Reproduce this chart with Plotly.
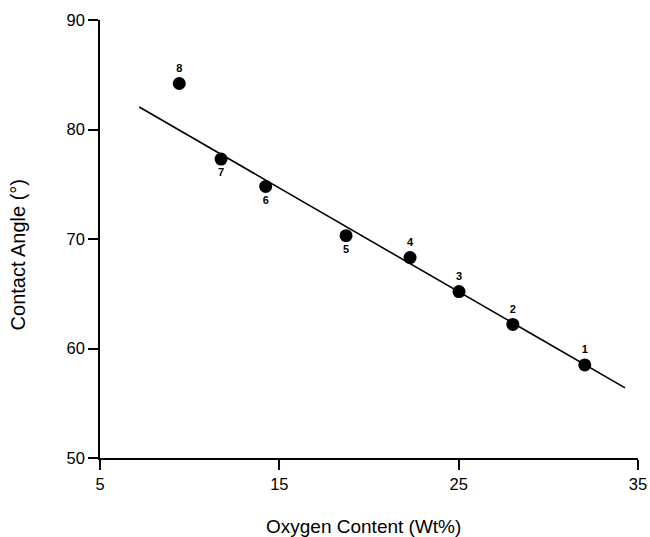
import plotly.graph_objects as go

# Data
oxygen = [32.03, 28.02, 25.02, 22.29, 18.72, 14.24, 11.75, 9.42]
angle = [58.5, 62.2, 65.2, 68.3, 70.3, 74.8, 77.3, 84.2]
labels = ["1", "2", "3", "4", "5", "6", "7", "8"]
label_pos = ["top center", "top center", "top center", "top center",
             "bottom center", "bottom center", "bottom center", "top center"]

fit_x = [7.19, 34.28]
fit_y = [82.05, 56.4]

x_ticks = [5, 15, 25, 35]
y_ticks = [50, 60, 70, 80, 90]

FONT = "Liberation Sans"

fig = go.Figure()
fig.add_trace(go.Scatter(x=fit_x, y=fit_y, mode="lines",
                         line=dict(color="black", width=1.6),
                         showlegend=False, hoverinfo="skip"))
fig.add_trace(go.Scatter(x=oxygen, y=angle, mode="markers+text",
                         marker=dict(color="black", size=13),
                         text=["<b>%s</b>" % t for t in labels], textposition=label_pos,
                         textfont=dict(family=FONT, size=11, color="black"),
                         showlegend=False))

axis_common = dict(showline=True, linecolor="black", linewidth=1.5,
                   ticks="outside", ticklen=10, tickwidth=1.5, tickcolor="black",
                   showgrid=False, zeroline=False, automargin=False,
                   tickfont=dict(family=FONT, size=16.5, color="black"))

fig.update_xaxes(range=[5, 35], tickvals=x_ticks, **axis_common)
fig.update_yaxes(range=[50, 90], tickvals=y_ticks, **axis_common)

fig.add_annotation(text="Oxygen Content (Wt%)", xref="paper", yref="paper",
                   x=0.49, y=-0.1575, showarrow=False, xanchor="center", yanchor="middle",
                   font=dict(family=FONT, size=19, color="black"))
fig.add_annotation(text="Contact Angle (°)", xref="paper", yref="paper",
                   x=-0.152, y=0.463, showarrow=False, textangle=-90,
                   xanchor="center", yanchor="middle",
                   font=dict(family=FONT, size=20, color="black"))

fig.update_layout(width=650, height=537,
                  margin=dict(l=100, r=12, t=20, b=79),
                  plot_bgcolor="white", paper_bgcolor="white")

fig.write_html("out.html", config={"displayModeBar": False},
               post_script="document.body.style.margin='0';document.body.style.overflow='hidden';")
